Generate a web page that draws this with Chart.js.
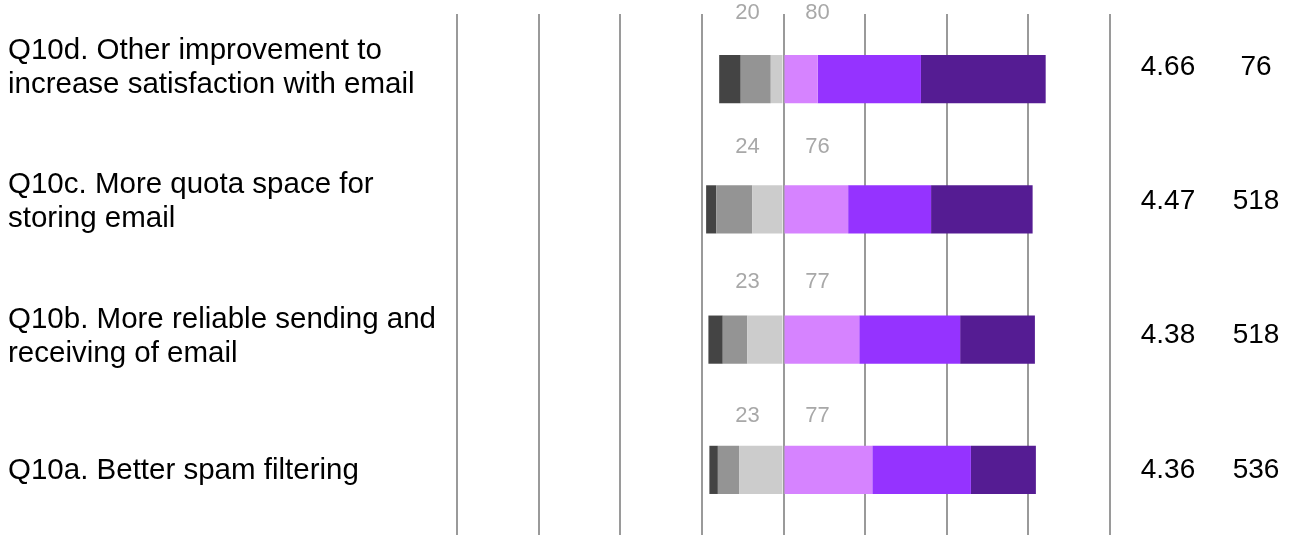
<!DOCTYPE html>
<html>
<head>
<meta charset="utf-8">
<title>Q10 email improvements</title>
<script src="https://cdn.jsdelivr.net/npm/chart.js@4/dist/chart.umd.min.js"></script>
<style>
  html, body { margin: 0; padding: 0; background: #fff; }
  #wrap { position: relative; width: 1298px; height: 535px; }
</style>
</head>
<body>
<div id="wrap"><canvas id="likert"></canvas></div>
<script>
// questions, top to bottom
const questions = [
  ["Q10d. Other improvement to", "increase satisfaction with email"],
  ["Q10c. More quota space for", "storing email"],
  ["Q10b. More reliable sending and", "receiving of email"],
  ["Q10a. Better spam filtering"]
];

// percent of respondents per answer (1 = lowest ... 6 = highest)
const resp1 = [6.6, 3.1, 4.4, 2.6];
const resp2 = [9.2, 11.0, 7.5, 6.5];
const resp3 = [3.9, 9.6, 11.1, 13.6];
const resp4 = [10.5, 19.8, 23.2, 27.2];
const resp5 = [31.6, 25.4, 30.9, 30.2];
const resp6 = [38.2, 31.1, 22.9, 19.9];

const means = ["4.66", "4.47", "4.38", "4.36"];
const counts = ["76", "518", "518", "536"];

const gridTicks = [-100, -75, -50, -25, 0, 25, 50, 75, 100];

const neg = v => -v;

// low answers go left of zero, the first dataset of each side sits next to the axis
const datasets = [
  { data: resp3.map(neg), backgroundColor: "#cccccc" },
  { data: resp2.map(neg), backgroundColor: "#949494" },
  { data: resp1.map(neg), backgroundColor: "#444444" },
  { data: resp4, backgroundColor: "#d683ff" },
  { data: resp5, backgroundColor: "#9533ff" },
  { data: resp6, backgroundColor: "#551c93" }
].map(d => Object.assign(d, {
  stack: "s",
  borderWidth: 0,
  barPercentage: 0.37,
  categoryPercentage: 1.0
}));

// rows of text (labels, mean, n) use their own pitch
const ROW_FIRST = 67;
const ROW_PITCH = 134.3;

const textPlugin = {
  id: "sideText",
  afterDraw(chart) {
    const c = chart.ctx;
    const x = chart.scales.x;
    const zero = x.getPixelForValue(0);
    c.save();
    c.textBaseline = "middle";
    questions.forEach((lines, i) => {
      const y = ROW_FIRST + i * ROW_PITCH;
      // question text
      c.fillStyle = "#000";
      c.font = "29.5px 'Liberation Sans', Arial, sans-serif";
      c.textAlign = "left";
      const lh = 34;
      const y0 = y - (lines.length - 1) * lh / 2 + 1;
      lines.forEach((t, k) => c.fillText(t, 8, y0 + k * lh));
      // mean and n
      c.font = "28px 'Liberation Sans', Arial, sans-serif";
      c.textAlign = "center";
      c.fillText(means[i], 1168, y);
      c.fillText(counts[i], 1256, y);
      // share below / above the midpoint
      const low = Math.round(resp1[i] + resp2[i] + resp3[i]);
      const high = Math.round(resp4[i] + resp5[i] + resp6[i]);
      c.fillStyle = "#a8a8a8";
      c.font = "22px 'Liberation Sans', Arial, sans-serif";
      c.fillText(String(low), zero - 36, y - 54);
      c.fillText(String(high), zero + 34, y - 54);
    });
    c.restore();
  }
};

new Chart(document.getElementById("likert"), {
  type: "bar",
  data: { labels: questions.map(q => q.join(" ")), datasets },
  options: {
    indexAxis: "y",
    responsive: true,
    maintainAspectRatio: false,
    animation: false,
    layout: { padding: { left: 457, right: 188, top: 14, bottom: 0 } },
    plugins: { legend: { display: false }, tooltip: { enabled: false } },
    scales: {
      x: {
        stacked: true,
        min: -100,
        max: 100,
        afterBuildTicks: axis => { axis.ticks = gridTicks.map(v => ({ value: v })); },
        ticks: { display: false },
        border: { display: false },
        grid: { color: "#9a9a9a", lineWidth: 2, drawTicks: false }
      },
      y: {
        stacked: true,
        display: false
      }
    }
  },
  plugins: [textPlugin]
});
</script>
</body>
</html>
